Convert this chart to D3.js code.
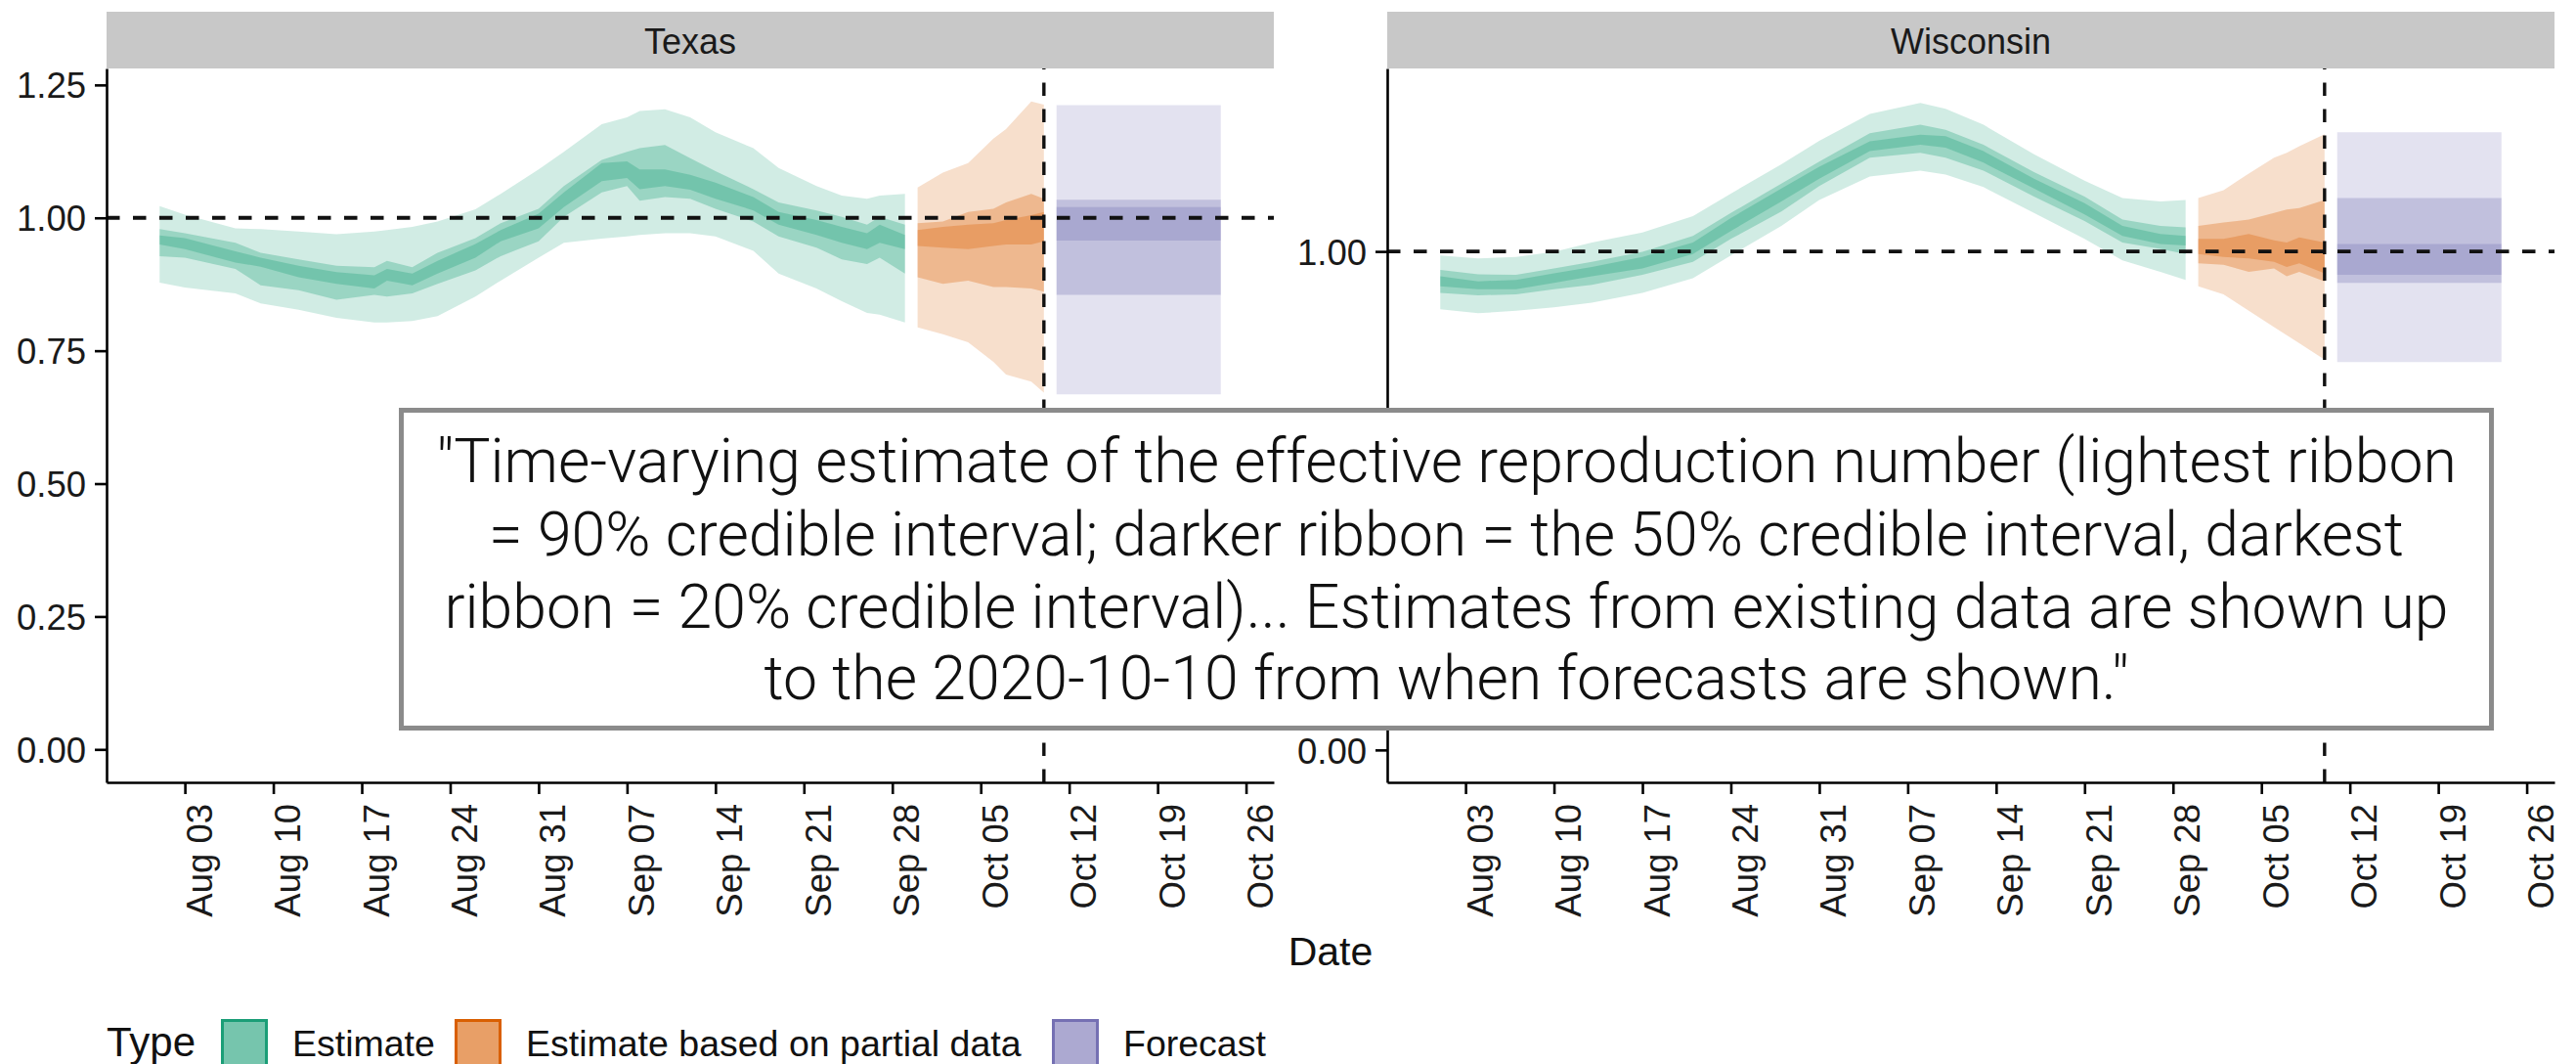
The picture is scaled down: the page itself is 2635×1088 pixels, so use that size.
<!DOCTYPE html>
<html lang="en">
<head>
  <meta charset="utf-8">
  <title>Rt estimates - Texas and Wisconsin</title>
  <style type="text/css">
    body { margin: 0; background: #fff; }
    svg { display: block; font-family: "Liberation Sans", Arial, Helvetica, sans-serif; }
  </style>
  <script src="https://cdnjs.cloudflare.com/ajax/libs/d3/7.8.5/d3.min.js"></script>
</head>
<body>
<div id="chart"></div>
<script>
// values
// each row: date, lo90, lo50, lo20, hi20, hi50, hi90
var types = ["Estimate", "Estimate based on partial data", "Forecast"];
var typeColors = ["#1b9e77", "#d95f02", "#7570b3"];
var states = ["Texas", "Wisconsin"];

var xTickDates = ["2020-08-03", "2020-08-10", "2020-08-17", "2020-08-24", "2020-08-31",
  "2020-09-07", "2020-09-14", "2020-09-21", "2020-09-28", "2020-10-05",
  "2020-10-12", "2020-10-19", "2020-10-26"];
var forecastDate = "2020-10-10";
var firstDate = "2020-08-01", lastDate = "2020-10-24";

var texasYTicks = [0, 0.25, 0.5, 0.75, 1, 1.25];
var wisconsinYTicks = [0, 1];

var texasEstimate = [
  ["2020-08-01", 0.878, 0.928, 0.950, 0.967, 0.979, 1.022],
  ["2020-08-03", 0.869, 0.925, 0.941, 0.962, 0.971, 1.006],
  ["2020-08-07", 0.858, 0.904, 0.916, 0.937, 0.953, 0.980],
  ["2020-08-09", 0.839, 0.873, 0.908, 0.925, 0.934, 0.979],
  ["2020-08-12", 0.827, 0.864, 0.888, 0.910, 0.922, 0.974],
  ["2020-08-15", 0.812, 0.846, 0.876, 0.898, 0.910, 0.969],
  ["2020-08-18", 0.803, 0.855, 0.867, 0.892, 0.907, 0.974],
  ["2020-08-19", 0.803, 0.852, 0.882, 0.904, 0.919, 0.977],
  ["2020-08-21", 0.806, 0.858, 0.873, 0.895, 0.907, 0.983],
  ["2020-08-23", 0.815, 0.876, 0.895, 0.919, 0.934, 0.993],
  ["2020-08-26", 0.852, 0.901, 0.925, 0.951, 0.962, 1.016],
  ["2020-08-28", 0.882, 0.928, 0.956, 0.977, 0.990, 1.045],
  ["2020-08-31", 0.925, 0.956, 0.980, 1.008, 1.017, 1.091],
  ["2020-09-02", 0.953, 1.002, 1.020, 1.048, 1.060, 1.124],
  ["2020-09-05", 0.961, 1.048, 1.069, 1.103, 1.109, 1.176],
  ["2020-09-07", 0.965, 1.060, 1.075, 1.106, 1.124, 1.189],
  ["2020-09-08", 0.968, 1.032, 1.054, 1.091, 1.131, 1.201],
  ["2020-09-10", 0.971, 1.039, 1.060, 1.091, 1.137, 1.204],
  ["2020-09-12", 0.971, 1.036, 1.053, 1.081, 1.112, 1.189],
  ["2020-09-14", 0.965, 1.017, 1.036, 1.066, 1.088, 1.161],
  ["2020-09-17", 0.938, 0.993, 1.014, 1.039, 1.054, 1.131],
  ["2020-09-19", 0.895, 0.965, 0.987, 1.011, 1.029, 1.094],
  ["2020-09-22", 0.867, 0.944, 0.968, 0.996, 1.014, 1.060],
  ["2020-09-24", 0.843, 0.922, 0.953, 0.983, 1.002, 1.042],
  ["2020-09-26", 0.821, 0.913, 0.941, 0.971, 0.987, 1.036],
  ["2020-09-27", 0.818, 0.925, 0.953, 0.987, 1.002, 1.042],
  ["2020-09-29", 0.803, 0.895, 0.941, 0.968, 0.987, 1.045]
];
var texasPartial = [
  ["2020-09-30", 0.794, 0.888, 0.947, 0.977, 0.990, 1.057],
  ["2020-10-02", 0.781, 0.876, 0.944, 0.983, 0.993, 1.085],
  ["2020-10-04", 0.766, 0.882, 0.941, 0.987, 1.011, 1.103],
  ["2020-10-06", 0.729, 0.870, 0.947, 0.990, 1.017, 1.149],
  ["2020-10-07", 0.705, 0.870, 0.950, 0.996, 1.029, 1.167],
  ["2020-10-09", 0.692, 0.867, 0.950, 1.005, 1.045, 1.219],
  ["2020-10-10", 0.671, 0.861, 0.956, 1.011, 1.036, 1.213]
];
var texasForecast = [
  ["2020-10-11", 0.668, 0.855, 0.957, 1.020, 1.034, 1.212],
  ["2020-10-24", 0.668, 0.855, 0.957, 1.020, 1.034, 1.212]
];

var wisconsinEstimate = [
  ["2020-08-01", 0.884, 0.917, 0.930, 0.950, 0.963, 0.992],
  ["2020-08-04", 0.876, 0.912, 0.924, 0.940, 0.954, 0.986],
  ["2020-08-07", 0.881, 0.914, 0.924, 0.943, 0.953, 0.989],
  ["2020-08-10", 0.888, 0.924, 0.937, 0.956, 0.966, 0.999],
  ["2020-08-13", 0.897, 0.933, 0.950, 0.969, 0.979, 1.018],
  ["2020-08-17", 0.917, 0.953, 0.966, 0.989, 0.999, 1.038],
  ["2020-08-21", 0.946, 0.979, 0.995, 1.018, 1.031, 1.071],
  ["2020-08-24", 0.992, 1.025, 1.041, 1.067, 1.077, 1.116],
  ["2020-08-28", 1.051, 1.080, 1.100, 1.126, 1.136, 1.175],
  ["2020-08-31", 1.103, 1.131, 1.146, 1.170, 1.180, 1.222],
  ["2020-09-04", 1.150, 1.188, 1.201, 1.221, 1.237, 1.276],
  ["2020-09-08", 1.162, 1.198, 1.214, 1.234, 1.254, 1.298],
  ["2020-09-10", 1.154, 1.188, 1.208, 1.231, 1.244, 1.286],
  ["2020-09-13", 1.129, 1.162, 1.178, 1.201, 1.214, 1.254],
  ["2020-09-17", 1.077, 1.110, 1.126, 1.146, 1.159, 1.195],
  ["2020-09-21", 1.025, 1.061, 1.074, 1.097, 1.110, 1.142],
  ["2020-09-24", 0.982, 1.018, 1.031, 1.051, 1.064, 1.107],
  ["2020-09-27", 0.959, 1.005, 1.015, 1.035, 1.051, 1.100],
  ["2020-09-29", 0.943, 0.995, 1.012, 1.031, 1.048, 1.103]
];
var wisconsinPartial = [
  ["2020-09-30", 0.930, 0.976, 0.995, 1.025, 1.051, 1.107],
  ["2020-10-02", 0.914, 0.973, 0.989, 1.025, 1.058, 1.123],
  ["2020-10-04", 0.881, 0.959, 0.986, 1.035, 1.064, 1.156],
  ["2020-10-06", 0.848, 0.966, 0.979, 1.022, 1.077, 1.188],
  ["2020-10-07", 0.832, 0.950, 0.969, 1.018, 1.084, 1.198],
  ["2020-10-08", 0.816, 0.959, 0.976, 1.028, 1.087, 1.211],
  ["2020-10-10", 0.783, 0.940, 0.956, 1.018, 1.103, 1.235]
];
var wisconsinForecast = [
  ["2020-10-11", 0.778, 0.937, 0.953, 1.015, 1.107, 1.239],
  ["2020-10-24", 0.778, 0.937, 0.953, 1.015, 1.107, 1.239]
];

var noteLines = [
  "\"Time-varying estimate of the effective reproduction number (lightest ribbon",
  "= 90% credible interval; darker ribbon = the 50% credible interval, darkest",
  "ribbon = 20% credible interval)... Estimates from existing data are shown up",
  "to the 2020-10-10 from when forecasts are shown.\""
];

// ---- layout ----
var W = 2635, H = 1088;
var panelTop = 70, panelBottom = 800, panelW = 1194;
var panelLefts = [109, 1419];
var parseDate = d3.timeParse("%Y-%m-%d");
var dayMs = 864e5;

var svg = d3.select("#chart").append("svg")
  .attr("width", W)
  .attr("height", H);

function drawPanel(left, name, yDomain, yTicks, series) {
  var g = svg.append("g").attr("transform", "translate(" + left + "," + panelTop + ")");
  var ph = panelBottom - panelTop;

  var x = d3.scaleTime()
    .domain([new Date(+parseDate(firstDate) - 4.2 * dayMs), new Date(+parseDate(lastDate) + 4.2 * dayMs)])
    .range([0, panelW]);
  var y = d3.scaleLinear().domain(yDomain).range([ph, 0]);

  // strip
  svg.append("rect")
    .attr("x", left).attr("y", 12)
    .attr("width", panelW).attr("height", panelTop - 12)
    .attr("fill", "#c8c8c8");
  svg.append("text")
    .attr("x", left + panelW / 2).attr("y", 55)
    .attr("text-anchor", "middle")
    .style("font-size", "36px")
    .attr("fill", "#1a1a1a")
    .text(name);

  // ribbons: 90%, 50%, 20%
  var bands = [[1, 6, 0.2], [2, 5, 0.3], [3, 4, 0.3]];
  series.forEach(function(rows, i) {
    bands.forEach(function(b) {
      var area = d3.area()
        .x(function(d) { return x(parseDate(d[0])); })
        .y0(function(d) { return y(d[b[0]]); })
        .y1(function(d) { return y(d[b[1]]); });
      g.append("path")
        .datum(rows)
        .attr("d", area)
        .attr("fill", typeColors[i])
        .attr("fill-opacity", b[2]);
    });
  });

  // reference lines
  g.append("line")
    .attr("x1", 0).attr("x2", panelW)
    .attr("y1", y(1)).attr("y2", y(1))
    .attr("stroke", "#111").attr("stroke-width", 3.8)
    .attr("stroke-dasharray", "13.5,13.5");
  var fx = x(parseDate(forecastDate));
  g.append("line")
    .attr("x1", fx).attr("x2", fx)
    .attr("y1", ph).attr("y2", 0)
    .attr("stroke", "#111").attr("stroke-width", 3.4)
    .attr("stroke-dasharray", "13.5,13.5");

  // axes
  var yAxis = g.append("g")
    .call(d3.axisLeft(y).tickValues(yTicks).tickFormat(d3.format(".2f"))
      .tickSize(12).tickSizeOuter(0).tickPadding(9));
  var xAxis = g.append("g")
    .attr("transform", "translate(0," + ph + ")")
    .call(d3.axisBottom(x).tickValues(xTickDates.map(parseDate))
      .tickFormat(d3.timeFormat("%b %d")).tickSize(12).tickSizeOuter(0));

  [yAxis, xAxis].forEach(function(a) {
    a.attr("color", "#000");
    a.selectAll("path, line").attr("stroke-width", 2.6);
    a.selectAll("text")
      .attr("fill", "#1a1a1a")
      .style("font-size", "36.5px")
      .style("font-family", "'Liberation Sans', Arial, sans-serif");
  });
  yAxis.selectAll("text").attr("dy", "0.36em");
  xAxis.selectAll("text")
    .attr("x", 0).attr("y", 0).attr("dy", 0)
    .attr("transform", "translate(27,22) rotate(-90)")
    .style("text-anchor", "end");
}

drawPanel(panelLefts[0], states[0], [-0.062, 1.281], texasYTicks,
  [texasEstimate, texasPartial, texasForecast]);
drawPanel(panelLefts[1], states[1], [-0.065, 1.367], wisconsinYTicks,
  [wisconsinEstimate, wisconsinPartial, wisconsinForecast]);

// x axis title
svg.append("text")
  .attr("x", (panelLefts[0] + panelLefts[1] + panelW) / 2).attr("y", 987)
  .attr("text-anchor", "middle")
  .style("font-size", "41px")
  .attr("fill", "#111")
  .text("Date");

// legend
var legend = svg.append("g");
legend.append("text")
  .attr("x", 109).attr("y", 1080)
  .style("font-size", "42px")
  .attr("fill", "#111")
  .text("Type");
var keyX = [226, 465, 1076];
types.forEach(function(t, i) {
  legend.append("rect")
    .attr("x", keyX[i] + 1.5).attr("y", 1043.5)
    .attr("width", 45).attr("height", 48)
    .attr("fill", typeColors[i]).attr("fill-opacity", 0.6)
    .attr("stroke", typeColors[i]).attr("stroke-width", 3);
  legend.append("text")
    .attr("x", keyX[i] + 73).attr("y", 1080)
    .style("font-size", "37.5px")
    .attr("fill", "#111")
    .text(t);
});

// annotation box on top
var box = svg.append("g");
box.append("rect")
  .attr("x", 410.5).attr("y", 419.5)
  .attr("width", 2138).attr("height", 325)
  .attr("fill", "#fff")
  .attr("stroke", "#8b8b8b").attr("stroke-width", 5);
var noteY = [493, 568, 642, 715];
var note = box.selectAll("text.note")
  .data(noteLines)
  .enter().append("text")
  .attr("class", "note")
  .attr("x", 1479.5)
  .attr("y", function(d, i) { return noteY[i]; })
  .attr("text-anchor", "middle")
  .style("font-family", "Roboto, 'Liberation Sans', sans-serif")
  .style("font-weight", 300)
  .style("font-size", "60px")
  .attr("fill", "#111")
  .text(function(d) { return d; });

// fit the first line to its width in the picture
var firstLen = note.node().getComputedTextLength();
note.style("font-size", (60 * 2067 / firstLen) + "px");
</script>
</body>
</html>
